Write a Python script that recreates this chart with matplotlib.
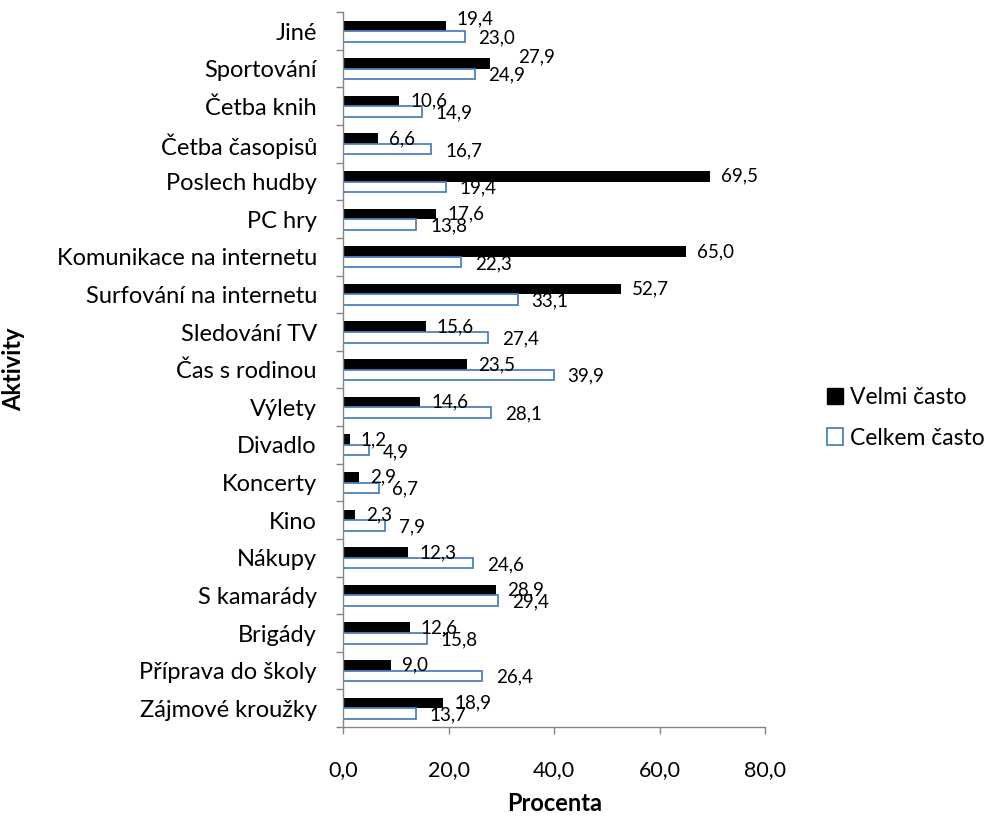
import matplotlib
matplotlib.use("Agg")
import matplotlib.pyplot as plt
from matplotlib.patches import Patch
from matplotlib.ticker import FixedLocator
import numpy as np

plt.rcParams['font.family'] = ['Lato', 'DejaVu Sans']

categories = ["Jiné", "Sportování", "Četba knih", "Četba časopisů", "Poslech hudby",
              "PC hry", "Komunikace na internetu", "Surfování na internetu",
              "Sledování TV", "Čas s rodinou", "Výlety", "Divadlo", "Koncerty",
              "Kino", "Nákupy", "S kamarády", "Brigády", "Příprava do školy",
              "Zájmové kroužky"]
velmi = [19.4, 27.9, 10.6, 6.6, 69.5, 17.6, 65.0, 52.7, 15.6, 23.5, 14.6,
         1.2, 2.9, 2.3, 12.3, 28.9, 12.6, 9.0, 18.9]
celkem = [23.0, 24.9, 14.9, 16.7, 19.4, 13.8, 22.3, 33.1, 27.4, 39.9, 28.1,
          4.9, 6.7, 7.9, 24.6, 29.4, 15.8, 26.4, 13.7]
xticks = [0, 20, 40, 60, 80]
series_names = ["Velmi často", "Celkem často"]

blue = "#4F81BD"
gray = "#868686"

fig = plt.figure(figsize=(9.95, 8.16), dpi=100)
ax = fig.add_axes([0.345, 0.109, 0.424, 0.876])

n = len(categories)
y = np.arange(n)[::-1]
h = 0.28

ax.barh(y + h / 2, velmi, height=h, color="black", edgecolor="black", linewidth=0)
ax.barh(y - h / 2, celkem, height=h, facecolor="white", edgecolor=blue, linewidth=1.3)

lab_fs = 13.5
for i, (yi, v) in enumerate(zip(y, velmi)):
    dy = 5 if i < 2 else 0
    dx = 20 if i == 1 else 8
    ax.annotate(f"{v:.1f}".replace(".", ","), (v, yi + h / 2), xytext=(dx, dy),
                textcoords="offset points", va="center", ha="left", fontsize=lab_fs)
for yi, v in zip(y, celkem):
    ax.annotate(f"{v:.1f}".replace(".", ","), (v, yi - h / 2), xytext=(10, -1),
                textcoords="offset points", va="center", ha="left", fontsize=lab_fs)

ax.set_xlim(0, 80)
ax.set_ylim(-0.5, n - 0.5)
ax.set_xticks(xticks)
ax.set_xticklabels([f"{t:.1f}".replace(".", ",") for t in xticks], fontsize=15.5)
ax.set_yticks(y)
ax.set_yticklabels(categories, fontsize=17)
ax.yaxis.set_minor_locator(FixedLocator(np.arange(-0.5, n, 1.0)))
ax.tick_params(axis="y", which="major", length=0, pad=19)
ax.tick_params(axis="y", which="minor", length=5, color=gray, width=1)
ax.tick_params(axis="x", which="major", length=5, color=gray, width=1, pad=19)

for s in ["top", "right"]:
    ax.spines[s].set_visible(False)
for s in ["left", "bottom"]:
    ax.spines[s].set_color(gray)
    ax.spines[s].set_linewidth(1)

ax.set_xlabel("Procenta", fontsize=17, fontweight="bold", labelpad=8)
fig.text(0.014, 0.547, "Aktivity", rotation=90, fontsize=17, fontweight="bold",
         ha="center", va="center")

handles = [Patch(facecolor="black", edgecolor="black"),
           Patch(facecolor="white", edgecolor=blue, linewidth=1.3)]
fig.legend(handles, series_names, loc="center left", bbox_to_anchor=(0.8105, 0.488),
           frameon=False, fontsize=16.5, handlelength=0.7, handleheight=0.7,
           handletextpad=0.3, labelspacing=0.85)

fig.savefig("out.png", dpi=100)
